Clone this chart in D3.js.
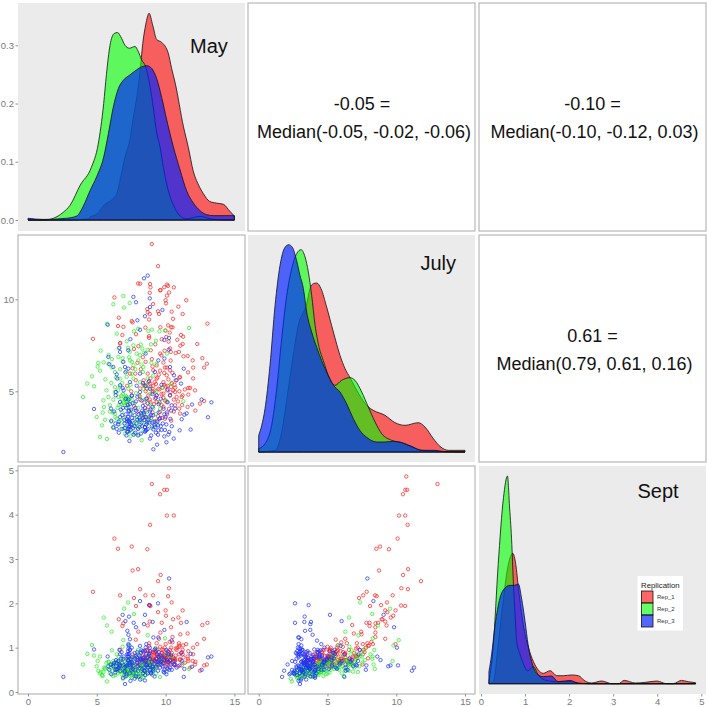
<!DOCTYPE html>
<html><head><meta charset="utf-8">
<script src="https://cdn.jsdelivr.net/npm/d3@7/dist/d3.min.js"></script>
<style>html,body{margin:0;padding:0;background:#fff}svg{display:block}text{font-family:"Liberation Sans",Arial,sans-serif}</style>
</head><body><svg id="c" width="708" height="707"></svg>
<script>
const seriesNames = ["Rep_1","Rep_2","Rep_3"];
const seriesColors = ["#ff0000","#00ff00","#0020ff"];
const seriesAlpha = [.6,.6,.68];
const scatterColors = ["#ff2020","#20f020","#1a30ff"];
const variables = ["May","July","Sept"];
const tickMay = [0,5,10,15];
const tickDensity = [0,0.1,0.2,0.3];
const tickJuly = [5,10];
const tickSept = [0,1,2,3,4,5];
const corrTop = ["-0.05 =","-0.10 =","0.61 ="];
const corrBottom = ["Median(-0.05, -0.02, -0.06)","Median(-0.10, -0.12, 0.03)","Median(0.79, 0.61, 0.16)"];

// density curves: [value, density]
const mayRep1 = [[0,0],[2.8,0],[4.4,.002],[4.5,.005],[5.0,.01],[5.5,.025],[6.2,.037],[6.45,.045],[6.75,.075],[7.05,.108],[7.4,.137],[7.66,.177],[7.9,.21],[8.14,.254],[8.34,.303],[8.55,.335],[8.8,.355],[9.06,.335],[9.35,.31],[9.72,.305],[10.2,.286],[10.44,.26],[10.7,.235],[11.3,.16],[11.65,.125],[12.0,.085],[12.4,.06],[12.75,.045],[13.2,.032],[13.7,.029],[14.2,.027],[14.7,.014],[15,.007]];
const mayRep2 = [[0,0],[1.2,0],[1.85,.003],[2.55,.013],[3.05,.025],[3.8,.06],[4.6,.09],[5.1,.13],[5.5,.2],[5.7,.25],[5.96,.3],[6.25,.32],[6.5,.322],[6.8,.312],[7.05,.3],[7.37,.295],[7.78,.298],[8.0,.29],[8.26,.275],[8.55,.263],[8.87,.229],[9.1,.194],[9.35,.15],[9.6,.125],[9.84,.09],[10.2,.05],[10.56,.026],[11.05,.007],[11.5,.002],[12.5,.006],[13.5,.001],[15,0]];
const mayRep3 = [[0,.003],[1.1,.001],[2.8,.003],[3.55,.007],[4.0,.023],[4.5,.05],[5.0,.075],[5.5,.108],[5.84,.148],[6.2,.194],[6.57,.226],[6.93,.24],[7.4,.249],[7.9,.258],[8.26,.263],[8.63,.265],[9.0,.26],[9.35,.243],[9.72,.21],[10.08,.172],[10.56,.126],[11.05,.086],[11.53,.05],[12.02,.029],[12.5,.016],[13.0,.009],[13.5,.0075],[15,.0075]];
const julyRep1 = [[0,0],[1.2,.0025],[1.67,.03],[1.91,.06],[2.4,.13],[2.88,.19],[3.49,.2225],[3.73,.245],[3.97,.2525],[4.22,.2535],[4.53,.245],[4.94,.2175],[5.43,.18],[5.91,.145],[6.28,.125],[6.64,.1115],[7.0,.0975],[7.49,.08],[7.97,.0675],[8.33,.0625],[9.18,.055],[9.91,.044],[10.64,.04],[11.6,.044],[12.09,.0375],[12.7,.02],[13.18,.0085],[13.79,.0025],[15,.0025]];
const julyRep2 = [[0,.005],[.46,.0125],[.94,.04],[1.31,.095],[1.67,.17],[2.04,.235],[2.4,.275],[2.76,.2975],[3.08,.3035],[3.37,.2925],[3.61,.27],[3.85,.235],[4.1,.19],[4.39,.157],[4.7,.137],[5.06,.115],[5.55,.10],[6.03,.1075],[6.64,.1115],[7.0,.1075],[7.49,.09],[7.97,.0675],[8.46,.045],[8.94,.0275],[9.67,.0175],[10.4,.014],[11.12,.0075],[11.85,.0025],[13.55,.0005],[15,0]];
const julyRep3 = [[0,.025],[.22,.04],[.46,.065],[.82,.13],[1.19,.22],[1.55,.28],[1.91,.307],[2.18,.311],[2.45,.307],[2.76,.287],[3.0,.265],[3.25,.245],[3.49,.21],[3.85,.18],[4.22,.157],[4.58,.137],[4.94,.12],[5.43,.10],[5.91,.09],[6.4,.072],[6.88,.05],[7.37,.032],[7.85,.022],[8.58,.015],[9.18,.015],[9.79,.016],[10.4,.014],[11.12,.0085],[11.85,.0025],[12.82,.0025],[13.55,.0005],[15,0]];
const septRep1 = [[.18,0],[.28,.02],[.39,.387],[.51,.853],[.62,1.187],[.72,1.3],[.79,1.187],[.85,.95],[.96,.587],[1.07,.37],[1.19,.22],[1.3,.137],[1.41,.103],[1.57,.13],[1.72,.08],[1.87,.08],[2.06,.087],[2.21,.08],[2.36,.027],[2.51,.007],[2.74,.027],[2.97,0],[3.12,0],[3.25,.033],[3.5,.007],[3.72,.013],[3.99,.027],[4.21,0],[4.36,0],[4.55,.033],[4.7,.02],[4.87,.01]];
const septRep2 = [[.18,.02],[.28,.387],[.39,1.187],[.51,1.853],[.6,2.07],[.65,1.75],[.7,1.387],[.73,1.05],[.77,.72],[.81,.42],[.88,.3],[.96,.2],[1.06,.127],[1.19,.17],[1.3,.087],[1.45,.037],[1.72,.02],[2.06,.02],[2.21,.007],[2.44,0],[4.87,0]];
const septRep3 = [[.18,.12],[.24,.287],[.32,.587],[.43,.853],[.54,.953],[.66,.98],[.76,.98],[.85,.993],[.92,.853],[1.0,.62],[1.07,.387],[1.15,.22],[1.26,.103],[1.41,.07],[1.6,.077],[1.75,.02],[2.02,.033],[2.21,.003],[2.5,0],[4.87,0]];

// scatter observations: [May, July, Sept]
const rep1 = [[9,13,4.69],[9.45,11.8,2.5],[8,10.86,2.77],[8.15,10.85,2.32],[8.87,10.83,3.77],[10.6,10.65,3.98],[10.1,10.2,3.98],[9.9,10.66,4.56],[10.1,10.8,4.56],[10.18,10.73,4.86],[9.6,10.49,4.46],[10.25,10.37,2.34],[6.28,10.1,3.46],[7.54,8.82,3.28],[6.54,8.55,3.23],[8.67,9.47,3.22],[7.6,8.75,2.74],[9.64,10.5,2.64],[4.72,7.85,2.26],[6.69,7.6,2.18],[8.53,8.46,2.18],[9.09,9.74,2.18],[10.18,8.58,2.16],[7.7,7.3,2.12],[8.85,10.35,1.95],[8.9,10.65,1.94],[10.44,9.33,2.02],[11.24,9.2,1.84],[10.0,9.95,1.84],[9.45,9.35,1.8],[10.03,9.78,1.72],[10.93,9.6,1.68],[10.54,8.94,1.64],[11.5,9.95,1.08],[8.7,9.3,1.5],[8.85,9.2,1.59],[9.52,9.2,1.2],[6.6,9,1.64],[8.8,8.9,1.96],[6.93,8.5,1.55],[13.04,8.68,1.56],[9.62,8.48,1.34],[10.5,8.48,1.24],[10.4,8.48,1.46],[10,8.3,1.08],[10.3,8.19,1.13],[6.86,8.06,1.49],[7.85,8.1,1.94],[8.8,8,1.04],[8.8,7.9,1.1],[9.72,7.83,1.56],[11.12,8.06,1.56],[11.27,7.97,1.05],[10.85,7.8,1.0],[6.7,7.63,.95],[10.22,7.7,.9],[12.3,7.57,1.08],[11.24,7.57,.85],[11.07,7.48,1.3],[8.02,7.45,1.36],[10.32,7.33,.95],[9.93,7.2,1.0],[10.97,7.14,1.1],[8.92,7.23,.82],[10.37,7.14,.8],[10.73,7.08,.98],[11.6,6.92,1.32],[12.67,6.8,1.51],[11.97,6.68,.7],[13,6.5,.62],[12.8,6.29,1.2],[12,6.29,.85],[11.63,6.03,.75],[10.37,6.67,.72],[9.84,6.56,.95],[9.35,6.41,1.1],[9.96,6.29,.78],[10.08,6.29,.88],[9.6,6.12,1.02],[10.32,6.14,.7],[9.1,6.14,.9],[7.8,5.96,.8],[7.41,5.96,.75],[7.83,5.6,1.18],[8.7,5.96,.92],[10.08,5.87,.68],[11,5.74,1.05],[10.73,5.6,.82],[11.05,5.78,.72],[9.35,5.69,.85],[9.84,5.5,.75],[8.87,5.42,.88],[8.5,5.27,.68],[8.63,5.14,.95],[9.1,5.29,.76],[9.47,5.14,.8],[10,5.27,.72],[10.4,5.24,1.0],[10.56,5.05,.78],[11.65,5.18,.92],[11.78,5.18,.55],[12.14,5.05,.62],[11.65,4.82,.7],[11.24,4.78,.95],[10.69,4.96,.75],[10.32,4.78,.66],[9.84,4.87,.72],[9.35,4.78,.82],[8.75,4.78,.64],[8.63,4.6,.7],[9.23,4.6,.9],[9.84,4.64,.85],[10.08,4.42,.62],[10.8,4.69,.95],[11.17,4.69,.6],[12.8,4.47,.6],[12.5,4.33,.48],[11.6,4.15,.8],[12.16,3.95,.68],[10.98,4.06,.85],[11.05,3.79,.74],[10.69,4.24,.7],[9.84,4.15,.78],[9.35,4.42,.75],[9.6,3.88,.65],[9.96,3.51,.7],[8.75,4.15,.72],[8.9,5.7,.92],[9.2,5.5,.85],[9.5,5.9,.7],[10.2,5.65,.65],[9.05,4.95,.68],[8.4,5.6,.9],[8.2,6.2,.72],[9.75,5.2,.96],[10.1,5.05,.82],[10.6,4.55,.74],[9.55,4.4,.68],[9.2,5.05,.72],[8.9,4.4,.62],[10.25,4.05,.8],[9.05,3.85,.75],[8.55,3.95,.7],[12,5.7,1.0],[11.3,6.9,.78],[10.05,7.95,.76],[9.25,7.55,.62],[10.65,5.35,.6],[7.95,6.55,.68],[8.35,6.85,.8],[9.0,6.75,.66],[9.7,6.95,.88],[10.5,6.0,1.12],[7.6,6.25,.85],[8.15,4.55,.6],[7.7,4.2,.58],[8.45,3.6,.66],[9.35,3.4,.74],[8.15,5.15,.78],[8.9,5.25,.8],[9.1,5.0,.72],[9.3,5.4,.92],[9.55,5.1,.78],[9.7,4.85,.68],[9.9,5.35,.75],[10.15,5.3,.85],[10.35,4.95,.7],[9.95,4.5,.72],[9.7,4.25,.76],[9.15,4.3,.88],[8.85,4.55,.74],[8.55,5.0,.82],[8.75,5.5,.62],[8.4,5.35,.7],[9.4,5.75,.95],[9.9,6.0,.66],[10.45,5.45,.88],[10.7,5.2,.72],[11.0,5.0,1.02],[10.9,4.45,.58],[11.4,5.1,.66],[10.6,3.9,.62],[10.1,3.75,.55],[9.45,3.65,.6],[8.95,3.55,.68],[9.75,3.55,.88],[10.4,3.4,.8],[8.45,4.4,.78],[8.1,4.75,.7],[7.95,3.9,.58],[7.2,5.3,.74],[7.5,5.0,.66],[9.05,6.35,.72],[8.55,6.6,.76],[9.6,7.05,.8],[11.2,4.25,.9]];
const rep2 = [[6.93,10.18,1.17],[6.2,9.73,.7],[7.39,9.8,1.05],[6.98,9.55,1.88],[5.74,8.67,1.5],[11.7,8.44,.52],[6.45,8.13,.85],[7.7,8.26,1.76],[8,8.4,.95],[8.75,8.28,.8],[9,8.35,.62],[9.55,8.26,.75],[9.96,8.3,1.21],[7.17,7.72,.72],[5.28,7.21,.45],[7.27,7.37,2.02],[7.66,7.5,.8],[8.2,7.54,.9],[8.94,7.55,.66],[8.7,7.25,1.28],[8.3,7.32,.58],[5.86,6.97,.68],[5.5,6.57,1.68],[5.11,6.54,.48],[5.06,6.34,.7],[6.08,6.3,1.36],[5.23,6.12,.8],[4.65,5.81,1.06],[4.31,5.42,.86],[4.8,5.27,.82],[5.62,5.65,.55],[4,4.69,.62],[4.99,3.6,.58],[5.23,2.52,.42],[5.74,2.41,.24],[5.38,3.15,.38],[6.57,6.87,.6],[6.88,6.8,.62],[6.88,6.6,1.02],[6.32,6.05,.66],[7.9,7.05,.72],[8.14,6.96,.55],[8.43,7.1,.6],[7.41,6.68,.66],[7.66,6.41,.5],[8.02,6.68,.85],[8.38,6.32,.48],[8.97,6.54,.58],[9.35,6.5,.62],[7.17,5.78,.54],[6.69,5.69,.6],[6.32,5.22,.5],[5.84,4.69,.52],[5.48,4.51,.45],[5.52,4.15,.55],[5.96,4.24,.42],[5.43,3.84,.36],[6.32,4.96,.62],[6.57,4.69,.5],[6.81,4.6,.66],[7.17,4.42,.72],[7.05,4.24,.58],[7.29,4.15,.46],[6.32,3.79,.52],[6.81,3.88,.4],[6.45,3.51,.5],[7.05,3.24,.34],[7.54,3.15,.38],[8.14,3.33,.55],[8.63,3.88,.45],[9.1,4.06,.5],[11.29,4.46,.65],[8.26,2.34,.3],[7.05,2.7,.44],[7.54,2.79,.32],[7.9,3.6,.42],[8.38,5.14,.68],[8.85,5.14,.56],[8.14,5.49,.52],[7.66,5.69,.74],[7.29,5.14,.44],[6.7,5.25,.7],[6.9,4.85,.48],[7.1,4.75,.56],[7.25,4.45,.5],[7.4,4.6,.6],[7,4.35,.38],[6.6,4.25,.54],[6.75,4.3,.46],[7.75,4.35,.52],[8,4.1,.62],[8.25,3.75,.48],[7.6,3.95,.56],[7.85,3.3,.4],[6.65,3.2,.46],[7.3,3.4,.6],[8.6,3.2,.5],[9.05,3.4,.38],[9.3,3.75,.55],[8.9,4.3,.64],[9.6,4.05,.34],[6.05,3.35,.6],[6.2,3.0,.36],[6.9,2.95,.3],[7.45,2.55,.42],[9.8,5.2,.7],[10.05,4.5,.45],[8.35,6.05,.42],[7.8,6.2,.36],[9.1,5.85,.5],[8.7,5.7,.6],[7.55,5.95,.62],[6.4,5.75,.68],[6.05,5.45,.56],[5.7,5.05,.66],[10.4,5.4,.76],[10.1,7.05,.85],[9.3,7.75,.98],[6.6,7.35,.8],[6.1,6.75,.94],[5.85,6.5,.68],[7.4,7.15,.76],[7.1,4.6,.55],[7.15,4.7,.5],[7.2,4.5,.6],[7.05,4.55,.45],[6.95,4.4,.52],[7.25,4.3,.4],[7.3,4.65,.7],[6.8,4.75,.58],[7.6,3.3,.45],[7.9,3.5,.5],[8.2,3.2,.4],[8.45,3.45,.55],[8.7,3.35,.42],[9.0,3.0,.48],[6.7,3.4,.52],[6.35,3.6,.38],[6.95,3.55,.62],[7.45,3.8,.35],[7.7,3.1,.55],[8.0,3.0,.34],[8.3,3.7,.6],[8.55,3.6,.38],[9.35,3.2,.56],[6.15,3.85,.48],[6.5,4.1,.42],[7.55,4.55,.46],[7.85,4.9,.4],[8.15,4.7,.36],[8.5,4.55,.46],[8.85,4.85,.7],[9.3,5.0,.42],[7.45,5.35,.6],[6.85,5.45,.75],[6.55,5.05,.66],[6.2,4.55,.58],[5.95,3.9,.62],[5.6,3.45,.52],[7.0,3.0,.44],[7.25,2.85,.5],[7.75,2.7,.38],[8.05,2.65,.46],[8.4,2.85,.34],[8.8,3.55,.6],[9.55,4.4,.62],[7.15,6.1,.58],[7.55,6.6,.64],[8.25,6.45,.72],[6.7,6.2,.54],[8.6,5.35,.66],[7.35,6.85,.46]];
const rep3 = [[8.7,11.29,.55],[8.43,11.14,.48],[7.66,10.13,.6],[7.85,9.84,1.46],[8.85,10.05,1.0],[8.87,9.58,.6],[9.77,9.42,.58],[8.5,9.08,1.74],[7.95,8.86,.72],[5.79,8.62,.8],[8.14,8.34,2.05],[10.25,7.9,2.56],[9.91,7.79,.5],[7.44,7.83,.6],[6.64,7.36,.95],[8.55,7.05,.62],[10.23,7.26,.85],[5.84,6.87,.58],[7.29,7.23,.7],[6.69,7.14,.6],[5.91,6.47,.5],[6.2,6.32,.62],[6.93,6.6,.75],[9.47,6.68,.68],[9.91,6.78,.72],[10.32,6.32,.55],[11.32,6.23,.34],[6.45,5.92,.65],[6.49,5.69,.52],[7.29,6.23,.85],[7.05,6.32,.48],[8.14,5.96,1.04],[9.23,6.05,.7],[10.61,5.87,.62],[10.8,5.6,.55],[11.12,5.42,.88],[7.41,5.5,.95],[6.69,5.33,.58],[6.4,4.96,.72],[6.37,4.78,.5],[6.69,4.42,.85],[7.54,4.78,1.0],[8.14,4.96,.75],[8.87,5.14,.92],[9.35,4.78,.68],[10.32,4.78,.72],[12.62,4.55,.5],[13.33,4.4,.8],[11.92,4.28,.57],[11.53,3.8,1.58],[13.08,3.59,.78],[4.8,4.04,.96],[6.03,4.06,.62],[10.44,4.24,1.16],[10.69,4.06,.62],[11.36,3.73,.52],[11.17,3.48,.7],[11.02,2.88,.6],[11.82,2.92,.86],[10.59,2.43,.7],[10.27,2.79,.5],[2.57,1.7,.34],[7.37,2.3,.42],[9.38,2.1,.62],[9.11,1.85,.48],[10.06,2.23,.4],[8.87,2.43,.5],[9.45,2.64,2],[8.82,3.63,1.96],[6.88,5.18,1.74],[7.34,3.34,1.7],[9.06,3.32,1.58],[7.08,6.03,1.6],[7.68,2.64,1.56],[8.43,3.75,1.53],[7.22,3.37,1.38],[9.91,3.75,1.4],[7.3,3.92,1.29],[9.11,2.93,1.23],[9.47,2.88,1.23],[7.41,3.1,1.19],[9.25,3.05,.98],[8.6,2.9,1.08],[8.2,2.7,.88],[7.8,2.75,.75],[7.2,2.8,.85],[6.8,2.95,.9],[6.2,3.05,.58],[6.55,3.2,.7],[7,3.25,.46],[7.6,3.4,.65],[8.3,3.1,.52],[8.8,3.3,.82],[9.7,2.9,.78],[10.05,3.2,.95],[10.35,3.5,.62],[9.6,3.55,.55],[8.95,3.7,.42],[8.3,3.95,.68],[7.75,3.7,.88],[7.1,3.75,.58],[6.7,3.6,.48],[6.25,3.9,.66],[6.05,3.4,.4],[7.25,4.25,.8],[7.3,4.55,1.08],[7.4,4.3,.95],[7.5,4.0,.74],[7.35,3.95,.62],[7.15,4.1,.36],[8.7,4.35,.78],[9.05,4.15,.56],[9.5,4.3,.9],[9.85,4.05,.46],[10.1,3.85,.72],[10.4,3.95,.84],[8.6,4.6,.6],[8.25,4.5,.94],[7.95,4.7,.66],[7.6,4.35,.52],[9.2,3.35,.35],[8.15,3.45,.28],[7.45,2.9,.25],[7.05,3.0,.18],[7.75,3.1,.3],[8.5,2.8,.38],[8.95,2.6,.42],[6.6,2.75,.55],[9.9,2.55,.44],[9.5,3.85,.8],[8.8,5.55,.86],[8.35,5.45,.76],[9.7,5.35,.62],[10.15,5.1,.52],[6.9,4.1,.32],[6.35,3.25,.44],[8.5,3.05,.26],[7.85,3.95,.35],[9.3,4.65,.75],[7.9,5.3,.78],[8.0,2.95,.58],[8.35,3.55,.92],[9.65,3.1,.68],[7.3,3.1,1.05],[7.3,2.95,.98],[7.28,2.8,.92],[7.35,3.05,.86],[7.32,3.4,.8],[7.27,3.6,.72],[7.4,3.3,.66],[7.2,3.5,.6],[7.45,3.75,.55],[7.5,3.2,.5],[8.55,2.85,1.0],[8.5,3.05,.93],[8.6,3.2,.86],[8.45,3.45,.78],[8.55,3.6,.7],[8.65,3.3,.62],[8.4,3.85,.55],[8.5,4.1,.48],[8.7,2.95,.42],[9.2,3.15,.95],[9.4,3.35,.85],[9.55,3.5,.72],[9.8,3.25,.65],[10.0,3.6,.58],[9.1,3.7,.52],[8.9,4.0,.45],[7.9,3.25,.66],[8.1,3.55,.6],[8.2,3.8,.74],[7.8,4.1,.5],[7.65,3.0,.42],[8.0,2.6,.48],[7.0,3.45,.55],[6.85,3.7,.66],[6.75,4.0,.75],[6.6,3.35,.62],[6.45,2.95,.52],[7.15,2.6,.4],[9.95,2.9,.82],[10.2,2.65,.68],[10.45,3.1,.5],[10.15,4.4,.92],[9.65,4.6,.82],[9.05,4.85,.58],[8.35,4.2,.42],[7.85,4.45,.82],[7.55,4.75,.68],[7.1,4.6,.62],[6.95,5.05,.8],[8.55,5.3,.72],[9.0,3.1,.68],[9.3,2.75,.58],[8.75,3.45,.55],[8.25,3.3,.72],[7.55,3.55,.78],[7.95,3.45,.9],[8.1,3.05,.82],[8.85,3.9,.75],[9.45,3.15,.48],[8.05,3.75,.35]];

const svg = d3.select("#c");
const cols = [[18,245],[248,475],[479,706]];
const rows = [[3,231],[235,462],[466,694]];
const panelStroke = "#b8b8b8", diagBg = "#ebebeb", tickColor = "#7a7a7a";

const xMay = d3.scaleLinear().domain([0,15]).range([28,234.4]);
const xJuly = d3.scaleLinear().domain([0,15]).range([258.7,465]);
const xSept = d3.scaleLinear().domain([0,5]).range([481,701.3]);
const yDens = d3.scaleLinear().domain([0,.3]).range([220,45.3]);
const yDensJuly = d3.scaleLinear().domain([0,.3]).range([452,252]);
const yDensSept = d3.scaleLinear().domain([0,2]).range([683.7,483]);
const yJuly = d3.scaleLinear().domain([5,10]).range([391.3,299.3]);
const ySept = d3.scaleLinear().domain([0,5]).range([692,470.3]);

function panel(c,r,bg){
  svg.append("rect").attr("x",cols[c][0]).attr("y",rows[r][0])
    .attr("width",cols[c][1]-cols[c][0]).attr("height",rows[r][1]-rows[r][0])
    .attr("fill",bg).attr("stroke",bg===diagBg?"none":panelStroke).attr("stroke-width",1.2);
}
[0,1,2].forEach(r=>[0,1,2].forEach(c=>panel(c,r,r===c?diagBg:"#fff")));

function density(curves,x,y){
  const area = d3.area().x(d=>x(d[0])).y0(y(0)).y1(d=>y(d[1])).curve(d3.curveMonotoneX);
  curves.forEach((cv,i)=>{
    svg.append("path").datum(cv).attr("d",area).attr("fill",seriesColors[i]).attr("fill-opacity",seriesAlpha[i])
      .attr("stroke","#111").attr("stroke-width",.8).attr("stroke-linejoin","round");
  });
}
density([mayRep1,mayRep2,mayRep3],xMay,yDens);
density([julyRep1,julyRep2,julyRep3],xJuly,yDensJuly);
density([septRep1,septRep2,septRep3],xSept,yDensSept);

function scatter(a,b,x,y){
  [rep1,rep2,rep3].forEach((rows_,i)=>{
    svg.append("g").selectAll("circle").data(rows_).join("circle")
      .attr("cx",d=>x(d[a])).attr("cy",d=>y(d[b])).attr("r",1.7)
      .attr("fill","none").attr("stroke",scatterColors[i]).attr("stroke-width",.85).attr("stroke-opacity",.85);
  });
}
scatter(0,1,xMay,yJuly);
scatter(0,2,xMay,ySept);
scatter(1,2,xJuly,ySept);

function styleAxis(g){
  g.select(".domain").remove();
  g.selectAll("line").attr("stroke",tickColor).attr("stroke-width",.8);
  g.selectAll("text").attr("fill",tickColor).attr("font-size",9.5).attr("font-family",'"Liberation Sans",Arial,sans-serif');
}
const intFmt = d3.format("d");
const bottomY = rows[2][1];
const leftX = cols[0][0];
[[xMay,tickMay],[xJuly,tickMay],[xSept,tickSept]].forEach(([s,t])=>{
  svg.append("g").attr("transform",`translate(0,${bottomY})`)
    .call(d3.axisBottom(s).tickValues(t).tickFormat(intFmt).tickSize(2.5).tickPadding(1.5)).call(styleAxis);
});
svg.append("g").attr("transform",`translate(${leftX},0)`).call(d3.axisLeft(yDens).tickValues(tickDensity).tickFormat(d3.format(".1f")).tickSize(2.5).tickPadding(1.5)).call(styleAxis);
svg.append("g").attr("transform",`translate(${leftX},0)`).call(d3.axisLeft(yJuly).tickValues(tickJuly).tickFormat(intFmt).tickSize(2.5).tickPadding(1.5)).call(styleAxis);
svg.append("g").attr("transform",`translate(${leftX},0)`).call(d3.axisLeft(ySept).tickValues(tickSept).tickFormat(intFmt).tickSize(2.5).tickPadding(1.5)).call(styleAxis);

[[variables[0],190,53],[variables[1],420.5,270],[variables[2],637.5,498]].forEach(t=>{
  svg.append("text").attr("x",t[1]).attr("y",t[2]).attr("font-size",20).attr("fill","#111").text(t[0]);
});

[[364,110,138],[594.5,110,138],[594.5,342,370]].forEach((p,i)=>{
  svg.append("text").attr("x",p[0]-2).attr("y",p[1]).attr("text-anchor","middle").attr("font-size",18).attr("fill","#111").text(corrTop[i]);
  svg.append("text").attr("x",p[0]).attr("y",p[2]).attr("text-anchor","middle").attr("font-size",18).attr("fill","#111").text(corrBottom[i]);
});

svg.append("rect").attr("x",637.5).attr("y",576).attr("width",45.5).attr("height",54.5).attr("fill","#fff");
svg.append("text").attr("x",641).attr("y",587.5).attr("font-size",7.8).attr("fill","#222").text("Replication");
seriesNames.forEach((n,i)=>{
  const y0 = 591+i*12;
  svg.append("rect").attr("x",641.5).attr("y",y0).attr("width",11.5).attr("height",12)
    .attr("fill",seriesColors[i]).attr("fill-opacity",seriesAlpha[i]).attr("stroke","#111").attr("stroke-width",.8);
  svg.append("text").attr("x",657).attr("y",y0+8).attr("font-size",6).attr("fill","#333").text(n);
});
</script></body></html>
